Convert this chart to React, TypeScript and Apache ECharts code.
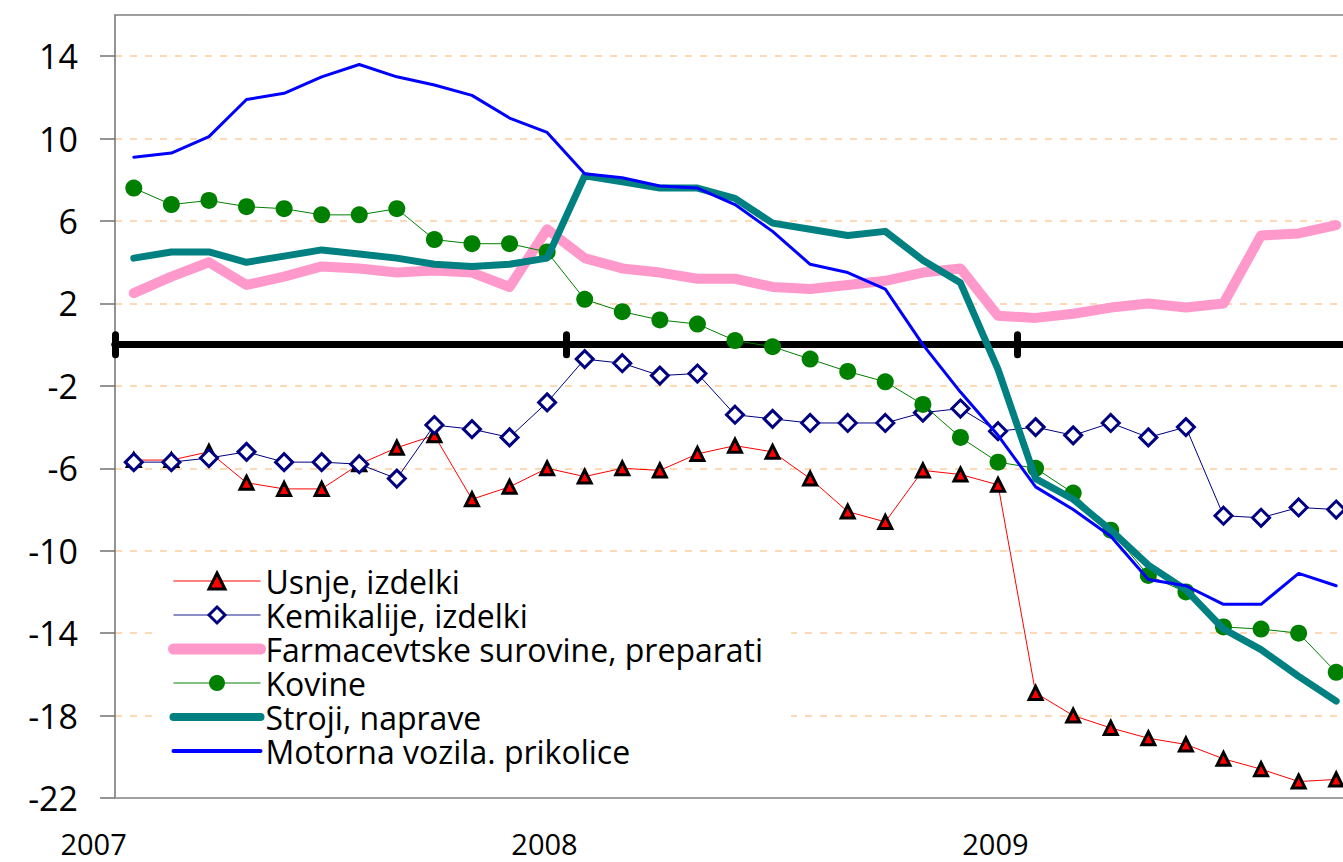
import React, { useEffect, useRef } from "react";
import * as echarts from "echarts";

const months = [
  "2007-01", "2007-02", "2007-03", "2007-04", "2007-05", "2007-06", "2007-07", "2007-08", "2007-09", "2007-10", "2007-11", "2007-12",
  "2008-01", "2008-02", "2008-03", "2008-04", "2008-05", "2008-06", "2008-07", "2008-08", "2008-09", "2008-10", "2008-11", "2008-12",
  "2009-01", "2009-02", "2009-03", "2009-04", "2009-05", "2009-06", "2009-07", "2009-08", "2009-09",
];
const yearLabels = ["2007", "2008", "2009"];
const yTicks = [-22, -18, -14, -10, -6, -2, 2, 6, 10, 14];

const usnje = [-5.6, -5.6, -5.2, -6.7, -7.0, -7.0, -5.8, -5.0, -4.4, -7.5, -6.9, -6.0, -6.4, -6.0, -6.1, -5.3, -4.9, -5.2, -6.5, -8.1, -8.6, -6.1, -6.3, -6.8, -16.9, -18.0, -18.6, -19.1, -19.4, -20.1, -20.6, -21.2, -21.1];
const kemikalije = [-5.7, -5.7, -5.5, -5.2, -5.7, -5.7, -5.8, -6.5, -3.9, -4.1, -4.5, -2.8, -0.7, -0.9, -1.5, -1.4, -3.4, -3.6, -3.8, -3.8, -3.8, -3.3, -3.1, -4.2, -4.0, -4.4, -3.8, -4.5, -4.0, -8.3, -8.4, -7.9, -8.0];
const farmacevtske = [2.5, 3.3, 4.0, 2.9, 3.3, 3.8, 3.7, 3.5, 3.6, 3.5, 2.8, 5.6, 4.2, 3.7, 3.5, 3.2, 3.2, 2.8, 2.7, 2.9, 3.1, 3.5, 3.7, 1.4, 1.3, 1.5, 1.8, 2.0, 1.8, 2.0, 5.3, 5.4, 5.8];
const kovine = [7.6, 6.8, 7.0, 6.7, 6.6, 6.3, 6.3, 6.6, 5.1, 4.9, 4.9, 4.5, 2.2, 1.6, 1.2, 1.0, 0.2, -0.1, -0.7, -1.3, -1.8, -2.9, -4.5, -5.7, -6.0, -7.2, -9.0, -11.2, -12.0, -13.7, -13.8, -14.0, -15.9];
const stroji = [4.2, 4.5, 4.5, 4.0, 4.3, 4.6, 4.4, 4.2, 3.9, 3.8, 3.9, 4.2, 8.2, 7.9, 7.6, 7.6, 7.1, 5.9, 5.6, 5.3, 5.5, 4.1, 3.0, -1.2, -6.5, -7.5, -9.0, -10.7, -11.9, -13.8, -14.8, -16.1, -17.3];
const motorna = [9.1, 9.3, 10.1, 11.9, 12.2, 13.0, 13.6, 13.0, 12.6, 12.1, 11.0, 10.3, 8.3, 8.1, 7.7, 7.6, 6.8, 5.5, 3.9, 3.5, 2.7, 0.0, -2.3, -4.4, -6.9, -8.0, -9.3, -11.4, -11.7, -12.6, -12.6, -11.1, -11.7];

const seriesNames = [
  "Usnje, izdelki",
  "Kemikalije, izdelki",
  "Farmacevtske surovine, preparati",
  "Kovine",
  "Stroji, naprave",
  "Motorna vozila. prikolice",
];

const FONT = "'Open Sans', 'DejaVu Sans', sans-serif";

export default function App() {
  const ref = useRef<HTMLDivElement>(null);
  useEffect(() => {
    if (!ref.current) return;
    const chart = echarts.init(ref.current, undefined, { renderer: "svg" });
    const yearTick = (i: number) => i % 12 === 0;
    const baseX = {
      type: "category",
      data: months,
      boundaryGap: true,
      splitLine: { show: false },
      axisLabel: { show: false },
    };
    chart.setOption({
      animation: false,
      backgroundColor: "#ffffff",
      grid: { left: 115, top: 15, width: 1240, height: 783, containLabel: false, outerBoundsMode: "none" },
      legend: {
        orient: "vertical",
        left: 155,
        top: 556,
        backgroundColor: "#ffffff",
        padding: [8, 28, 6, 13],
        itemWidth: 87,
        itemHeight: 20,
        itemGap: 0,
        selectedMode: false,
        textStyle: { fontFamily: FONT, fontSize: 32, color: "#000", lineHeight: 34 },
        data: [
          { name: seriesNames[0], lineStyle: { width: 1 }, itemStyle: { borderWidth: 3, borderColor: "#000" } },
          { name: seriesNames[1], lineStyle: { width: 1.5, color: "#6666b3" }, itemStyle: { borderWidth: 3, borderColor: "#000080", color: "#fff" } },
          { name: seriesNames[2], lineStyle: { width: 11, cap: "round" }, itemStyle: { opacity: 0 } },
          { name: seriesNames[3], lineStyle: { width: 1 }, itemStyle: { borderWidth: 0 } },
          { name: seriesNames[4], lineStyle: { width: 8, cap: "round" }, itemStyle: { opacity: 0 } },
          { name: seriesNames[5], lineStyle: { width: 4, cap: "round" }, itemStyle: { opacity: 0 } },
        ],
      },
      xAxis: [
        {
          ...baseX,
          position: "bottom",
          axisLine: { show: true, onZero: true, onZeroAxisIndex: 0, lineStyle: { color: "#000", width: 7 } },
          axisTick: { show: true, interval: yearTick, inside: false, length: 10, lineStyle: { color: "#000", width: 7, cap: "round" } },
        },
        {
          ...baseX,
          position: "bottom",
          axisLine: { show: true, onZero: true, onZeroAxisIndex: 0, lineStyle: { color: "#000", width: 7 } },
          axisTick: { show: true, interval: yearTick, inside: true, length: 10, lineStyle: { color: "#000", width: 7, cap: "round" } },
        },
        {
          type: "category",
          data: months,
          boundaryGap: true,
          position: "bottom",
          splitLine: { show: false },
          axisLine: { show: true, onZero: false, lineStyle: { color: "#a0a0a0", width: 2 } },
          axisTick: { show: false },
          axisLabel: {
            show: true,
            interval: yearTick,
            formatter: (_v: string, i: number) => yearLabels[Math.floor(i / 12)],
            align: "right",
            padding: [0, 7, 0, 0],
            margin: 31,
            lineHeight: 29,
            fontFamily: FONT,
            fontSize: 29,
            color: "#000",
          },
        },
        {
          type: "category",
          data: months,
          boundaryGap: true,
          position: "top",
          splitLine: { show: false },
          axisLine: { show: true, onZero: false, lineStyle: { color: "#808080", width: 1.5 } },
          axisTick: { show: false },
          axisLabel: { show: false },
        },
      ],
      yAxis: {
        type: "value",
        min: -22,
        max: 16,
        interval: 4,
        axisLine: { show: true, onZero: false, lineStyle: { color: "#707070", width: 1.5 } },
        axisTick: { show: true, length: 15, customValues: yTicks, lineStyle: { color: "#707070", width: 1.5 } },
        axisLabel: { customValues: yTicks, margin: 37, fontFamily: FONT, fontSize: 34, color: "#000" },
        splitLine: { show: true, lineStyle: { color: "#fdd9b5", width: 2, type: [7, 8] } },
      },
      series: [
        {
          name: seriesNames[0], type: "line", data: usnje, symbol: "triangle", symbolSize: 13,
          lineStyle: { color: "#ff0000", width: 1 },
          itemStyle: { color: "#ff0000", borderColor: "#000", borderWidth: 3 },
          z: 3,
        },
        {
          name: seriesNames[1], type: "line", data: kemikalije, symbol: "diamond", symbolSize: 17,
          lineStyle: { color: "#000080", width: 1 },
          itemStyle: { color: "#ffffff", borderColor: "#000080", borderWidth: 3 },
          z: 4,
        },
        {
          name: seriesNames[2], type: "line", data: farmacevtske, symbol: "none",
          lineStyle: { color: "#ff99cc", width: 10, join: "round", cap: "round" },
          itemStyle: { color: "#ff99cc" },
          z: 5,
        },
        {
          name: seriesNames[3], type: "line", data: kovine, symbol: "circle", symbolSize: 17,
          lineStyle: { color: "#008000", width: 1 },
          itemStyle: { color: "#008000" },
          z: 6,
        },
        {
          name: seriesNames[4], type: "line", data: stroji, symbol: "none",
          lineStyle: { color: "#008080", width: 7, join: "round", cap: "round" },
          itemStyle: { color: "#008080" },
          z: 7,
        },
        {
          name: seriesNames[5], type: "line", data: motorna, symbol: "none",
          lineStyle: { color: "#0000ff", width: 3, join: "round", cap: "round" },
          itemStyle: { color: "#0000ff" },
          z: 8,
        },
      ],
    });
    return () => chart.dispose();
  }, []);
  return <div ref={ref} style={{ position: "fixed", left: 0, top: 0, width: 1343, height: 862 }} />;
}
